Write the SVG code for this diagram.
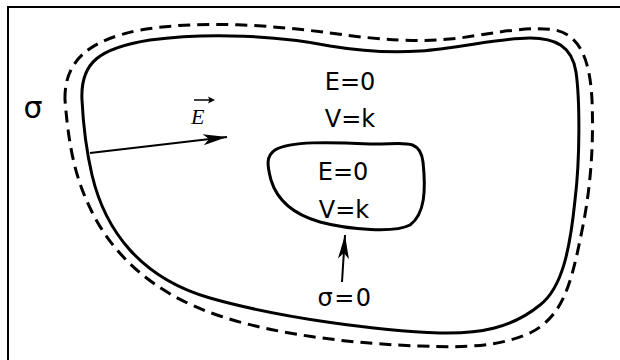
<svg xmlns="http://www.w3.org/2000/svg" width="620" height="360" viewBox="0 0 620 360">
<style>
.frame{fill:none;stroke:#000;stroke-width:2}
.solid{fill:none;stroke:#000;stroke-width:3;stroke-linejoin:round}
.dash{fill:none;stroke:#000;stroke-width:3;stroke-dasharray:12 7}
.lbl{font-family:"DejaVu Sans",Verdana,sans-serif;font-size:24px;fill:#000;text-anchor:middle}
.vec{font-family:"Liberation Serif","Times New Roman",serif;font-style:italic;font-size:22px;fill:#000}
.arrow{fill:none;stroke:#000;stroke-width:2}
</style>
<defs>
<marker id="ah" markerUnits="userSpaceOnUse" markerWidth="30" markerHeight="16" viewBox="-26 -8 28 16" refX="0" refY="0" orient="auto">
<path d="M0,0 L-24,-5.5 L-18,0 L-24,5.5 Z" fill="#000"/>
</marker>
</defs>
<rect x="8" y="7" width="700" height="400" class="frame"/>
<g id="outer-surface">
<path class="solid" d="M82,100 C80,62 100,48 150,40 C210,32 280,36 330,46 C360,51 390,53 420,51 C460,48 500,38 530,38 C555,38 572,46 576,72 C580,100 580,160 575,200 C570,250 562,288 540,305 C512,328 480,334 440,333 C380,331 280,318 210,298 C140,278 105,230 92,175 C85,145 83,120 82,100 Z"/>
<path class="dash" d="M65,100 C64,60 90,40 140,30 C200,20 270,25 330,33 C380,40 420,43 460,38 C500,32 530,26 555,30 C580,35 590,60 592,100 C594,150 590,195 580,240 C570,290 560,318 530,333 C500,346 470,348 420,346 C360,344 280,336 220,316 C150,293 112,252 92,212 C76,180 69,150 65,100 Z"/>
<text class="lbl" x="33" y="118" style="font-size:30px">σ</text>
<text class="lbl" x="350" y="90">E=0</text>
<text class="lbl" x="350" y="127">V=k</text>
</g>
<g id="inner-cavity">
<path class="solid" d="M275,150 C290,141 330,142 370,144 C400,145 420,136 423,162 C426,190 425,214 410,225 C395,233 350,230 320,222 C292,214 277,200 271,180 C267,165 266,156 275,150 Z"/>
<text class="lbl" x="343" y="180">E=0</text>
<text class="lbl" x="344" y="218">V=k</text>
</g>
<g id="sigma-zero">
<text class="lbl" x="345" y="306" style="letter-spacing:1.5px">σ=0</text>
</g>
<g id="field-label">
<text class="vec" x="191" y="124">E</text>
<line x1="194" y1="100" x2="213" y2="100" stroke="#000" stroke-width="1.5"/>
<path d="M215,100 L208,96.5 L209.5,100 L208,103.5 Z" fill="#000"/>
</g>
<g id="connectors">
<line class="arrow" x1="90" y1="153" x2="227" y2="137" marker-end="url(#ah)"/>
<line class="arrow" x1="342" y1="282" x2="345" y2="235" marker-end="url(#ah)"/>
</g>
</svg>
